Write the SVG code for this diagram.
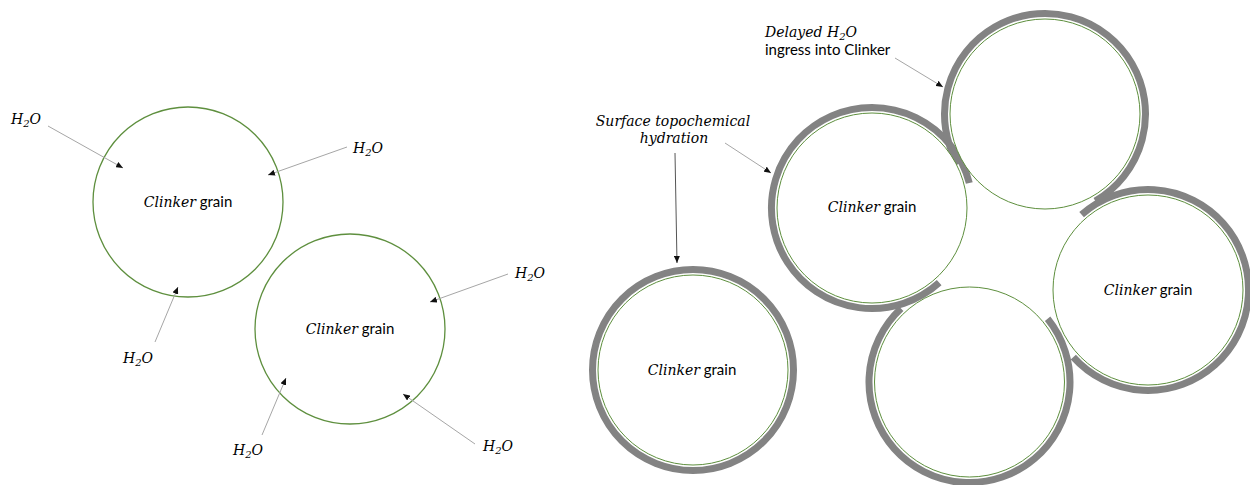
<svg xmlns="http://www.w3.org/2000/svg" width="1250" height="485" viewBox="0 0 1250 485">
  <style>
    .grain { fill: #ffffff; stroke: #5e8f3e; stroke-width: 1.3; }
    .grain-thin { fill: #ffffff; stroke: #5e8f3e; stroke-width: 1; }
    .shell { fill: none; stroke: #838383; stroke-width: 7; stroke-linecap: butt; filter: url(#soft); }
    .math { font-family: "DejaVu Serif", "Liberation Serif", serif; font-style: italic; font-size: 14px; fill: #000; }
    .plain { font-family: Lato, "Liberation Sans", sans-serif; font-size: 15px; fill: #000; }
    .sub { font-size: 10px; }
    .lead { stroke: #a6a6a6; stroke-width: 1; fill: none; marker-end: url(#head); }
    .lead-dark { stroke: #555555; stroke-width: 1; fill: none; marker-end: url(#head); }
  </style>
  <defs>
    <marker id="head" markerUnits="userSpaceOnUse" markerWidth="7" markerHeight="6" refX="7" refY="3" orient="auto">
      <path d="M0,0 L7,3 L0,6 z" fill="#111"/>
    </marker>
    <filter id="soft" x="-10%" y="-10%" width="120%" height="120%">
      <feGaussianBlur stdDeviation="0.6"/>
    </filter>
  </defs>

  <rect width="1250" height="485" fill="#ffffff"/>

  <!-- free clinker grains -->
  <g id="grain-left-1">
    <circle class="grain" cx="188" cy="202" r="95"/>
    <text x="188" y="207" text-anchor="middle"><tspan class="math">Clinker</tspan><tspan class="plain"> grain</tspan></text>
  </g>
  <g id="grain-left-2">
    <circle class="grain" cx="350" cy="329" r="95"/>
    <text x="350" y="334" text-anchor="middle"><tspan class="math">Clinker</tspan><tspan class="plain"> grain</tspan></text>
  </g>

  <!-- water labels -->
  <g id="water-labels">
    <text class="math" x="11" y="124">H<tspan class="sub" dy="3">2</tspan><tspan dy="-3">O</tspan></text>
    <text class="math" x="353" y="153">H<tspan class="sub" dy="3">2</tspan><tspan dy="-3">O</tspan></text>
    <text class="math" x="123" y="363">H<tspan class="sub" dy="3">2</tspan><tspan dy="-3">O</tspan></text>
    <text class="math" x="515" y="278">H<tspan class="sub" dy="3">2</tspan><tspan dy="-3">O</tspan></text>
    <text class="math" x="233" y="455">H<tspan class="sub" dy="3">2</tspan><tspan dy="-3">O</tspan></text>
    <text class="math" x="483" y="451">H<tspan class="sub" dy="3">2</tspan><tspan dy="-3">O</tspan></text>
  </g>

  <!-- hydrated shells around packed grains -->
  <g id="shells">
    <circle class="shell" cx="693" cy="370" r="100.5"/>
    <path class="shell" d="M939.2,282.7 A100.5,100.5 0 1 1 969.3,183.0"/>
    <path class="shell" d="M958.0,164.3 A100.5,100.5 0 1 1 1095.3,201.0"/>
    <path class="shell" d="M1081.6,214.6 A100.5,100.5 0 1 1 1073.3,357.2"/>
    <path class="shell" d="M1047.6,318.8 A100.5,100.5 0 1 1 901.0,308.5"/>
  </g>

  <!-- packed grains -->
  <g id="grain-a">
    <circle class="grain-thin" cx="693" cy="370" r="95"/>
    <text x="692" y="375" text-anchor="middle"><tspan class="math">Clinker</tspan><tspan class="plain"> grain</tspan></text>
  </g>
  <g id="grain-b">
    <circle class="grain-thin" cx="872" cy="208" r="95"/>
    <text x="872" y="212" text-anchor="middle"><tspan class="math">Clinker</tspan><tspan class="plain"> grain</tspan></text>
  </g>
  <g id="grain-c">
    <circle class="grain-thin" cx="1045" cy="114" r="95"/>
  </g>
  <g id="grain-d">
    <circle class="grain-thin" cx="1148" cy="290" r="95"/>
    <text x="1148" y="295" text-anchor="middle"><tspan class="math">Clinker</tspan><tspan class="plain"> grain</tspan></text>
  </g>
  <g id="grain-e">
    <circle class="grain-thin" cx="969.5" cy="382" r="95"/>
  </g>

  <!-- annotations -->
  <g id="label-surface">
    <text class="math" x="673" y="126" text-anchor="middle">Surface topochemical</text>
    <text class="math" x="674" y="143" text-anchor="middle">hydration</text>
  </g>
  <g id="label-delayed">
    <text class="math" x="765" y="37">Delayed H<tspan class="sub" dy="3">2</tspan><tspan dy="-3">O</tspan></text>
    <text class="plain" x="765" y="55">ingress into Clinker</text>
  </g>

  <!-- connectors -->
  <g id="connectors">
    <line class="lead" x1="48" y1="126" x2="123" y2="168"/>
    <line class="lead" x1="347" y1="147" x2="268" y2="175"/>
    <line class="lead" x1="155" y1="342" x2="178" y2="287"/>
    <line class="lead" x1="508" y1="274" x2="430" y2="302"/>
    <line class="lead" x1="262" y1="435" x2="286" y2="378"/>
    <line class="lead" x1="475" y1="444" x2="403" y2="394"/>
    <line class="lead-dark" x1="675" y1="153" x2="677" y2="263"/>
    <line class="lead" x1="725" y1="143" x2="771" y2="173"/>
    <line class="lead" x1="895" y1="58" x2="943" y2="87"/>
  </g>
</svg>
